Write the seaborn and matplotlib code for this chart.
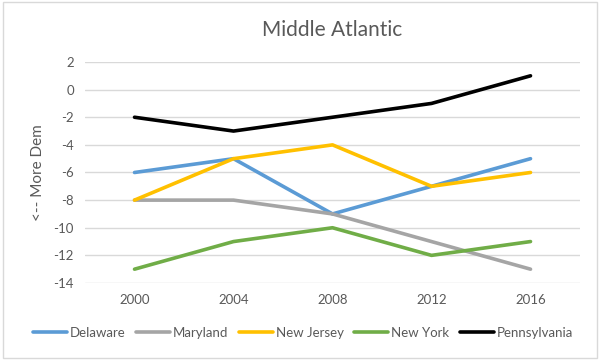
import pandas as pd
import seaborn as sns
import matplotlib.pyplot as plt

years = ["2000", "2004", "2008", "2012", "2016"]
delaware = [-6, -5, -9, -7, -5]
maryland = [-8, -8, -9, -11, -13]
new_jersey = [-8, -5, -4, -7, -6]
new_york = [-13, -11, -10, -12, -11]
pennsylvania = [-2, -3, -2, -1, 1]

states = ["Delaware", "Maryland", "New Jersey", "New York", "Pennsylvania"]
colors = ["#5B9BD5", "#A5A5A5", "#FFC000", "#70AD47", "#000000"]

# long form for seaborn
rows = []
for name, vals in zip(states, [delaware, maryland, new_jersey, new_york, pennsylvania]):
    for y, v in zip(years, vals):
        rows.append((y, v, name))
df = pd.DataFrame(rows, columns=["Year", "Score", "State"])

sns.set_style("white")
plt.rcParams['font.family'] = ['Lato', 'DejaVu Sans']
plt.rcParams['axes.unicode_minus'] = False
txt = "#595959"

fig = plt.figure(figsize=(6, 3.6), dpi=100)
ax = fig.add_axes([0.1417, 0.2139, 0.825, 0.6139])
sns.lineplot(data=df, x="Year", y="Score", hue="State", palette=dict(zip(states, colors)),
             linewidth=2.6, ax=ax, sort=False)

ax.set_xlim(-0.5, 4.5)
ax.set_ylim(-14, 2)
ax.set_yticks(range(-14, 3, 2))
ax.yaxis.grid(True, color="#D9D9D9", linewidth=1)
ax.set_axisbelow(True)
for s in ax.spines.values():
    s.set_visible(False)
ax.tick_params(axis="both", length=0, labelsize=9.5, colors=txt, pad=8)
ax.set_xlabel("")
ax.set_ylabel("<-- More Dem", fontsize=11, color=txt, labelpad=6)
ax.set_title("Middle Atlantic", fontsize=15, color=txt, pad=19)

handles, labels = ax.get_legend_handles_labels()
ax.legend(handles, labels, loc="upper center", bbox_to_anchor=(0.44, -0.175), ncol=5, frameon=False,
          fontsize=9.5, labelcolor=txt, handlelength=2.6, handletextpad=0.2, columnspacing=0.8,
          borderaxespad=0)

# light border around the whole chart
fig.patches.append(plt.Rectangle((0.005, 0.005), 0.99, 0.99, transform=fig.transFigure,
                                 fill=False, edgecolor="#D9D9D9", linewidth=1))

plt.savefig("out.png", dpi=100)
plt.close()
